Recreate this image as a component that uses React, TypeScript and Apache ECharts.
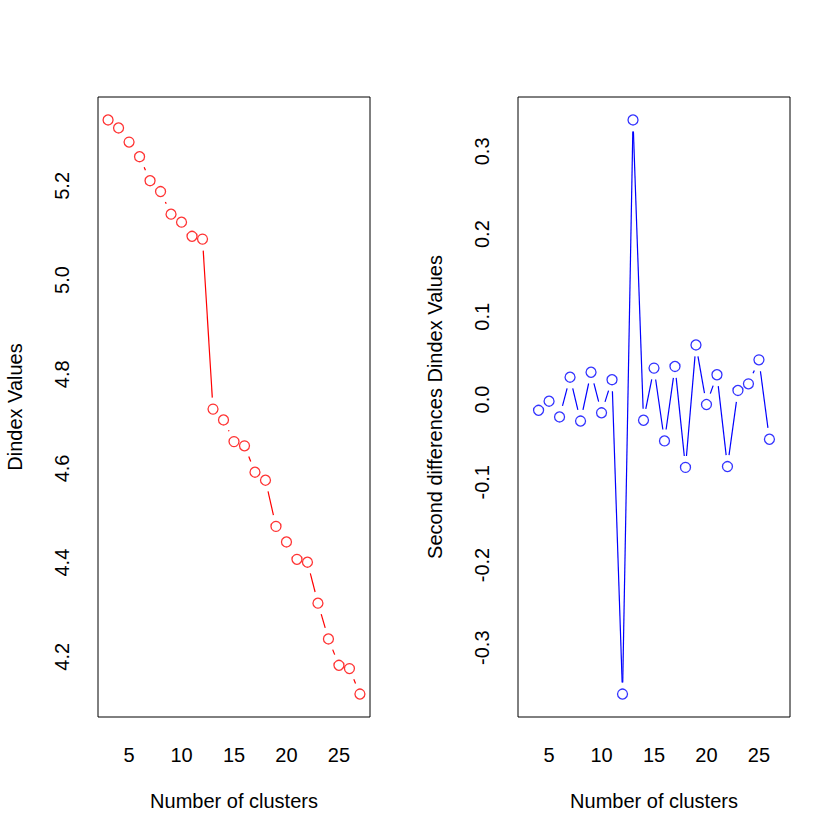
import React, { useEffect, useRef } from "react";
import * as echarts from "echarts";

// ---- Data ----
const clustersLeft = [3, 4, 5, 6, 7, 8, 9, 10, 11, 12, 13, 14, 15, 16, 17, 18, 19, 20, 21, 22, 23, 24, 25, 26, 27];
const dindexValues = [
  5.340, 5.323, 5.293, 5.262, 5.211, 5.188, 5.140, 5.123, 5.093, 5.087,
  4.726, 4.703, 4.657, 4.648, 4.592, 4.575, 4.477, 4.444, 4.407, 4.401,
  4.314, 4.238, 4.182, 4.175, 4.121,
];
const clustersRight = [4, 5, 6, 7, 8, 9, 10, 11, 12, 13, 14, 15, 16, 17, 18, 19, 20, 21, 22, 23, 24, 25, 26];
const secondDiffValues = [
  -0.013, -0.002, -0.021, 0.027, -0.026, 0.033, -0.016, 0.024, -0.356, 0.338,
  -0.025, 0.038, -0.050, 0.040, -0.082, 0.066, -0.006, 0.030, -0.081, 0.011,
  0.019, 0.048, -0.048,
];
const xTickValues = [5, 10, 15, 20, 25];
const yTicksLeft = [4.2, 4.4, 4.6, 4.8, 5.0, 5.2];
const yTicksRight = [-0.3, -0.2, -0.1, 0.0, 0.1, 0.2, 0.3];

// R-style axis extension (4% each side)
function extRange(vals: number[]): [number, number] {
  const lo = Math.min(...vals);
  const hi = Math.max(...vals);
  const d = (hi - lo) * 0.04;
  return [lo - d, hi + d];
}

const FONT = "'Liberation Sans', Arial, Helvetica, sans-serif";
const FS = 20;
const GAP = 11.5;

function segSeries(xs: number[], ys: number[], color: string, idx: number) {
  return {
    type: "custom",
    xAxisIndex: idx,
    yAxisIndex: idx,
    silent: true,
    encode: { x: 0, y: 1 },
    data: xs.map((x, i) => [x, ys[i]]),
    renderItem: (params: any, api: any) => {
      const i = params.dataIndex;
      if (i >= xs.length - 1) return { type: "group", children: [] };
      const p0 = api.coord([xs[i], ys[i]]);
      const p1 = api.coord([xs[i + 1], ys[i + 1]]);
      const dx = p1[0] - p0[0];
      const dy = p1[1] - p0[1];
      const len = Math.hypot(dx, dy);
      if (len <= 2 * GAP) return { type: "group", children: [] };
      const ux = dx / len;
      const uy = dy / len;
      return {
        type: "line",
        shape: {
          x1: p0[0] + ux * GAP,
          y1: p0[1] + uy * GAP,
          x2: p1[0] - ux * GAP,
          y2: p1[1] - uy * GAP,
        },
        style: { stroke: color, lineWidth: 1.2 },
      };
    },
  };
}

function pointSeries(xs: number[], ys: number[], color: string, idx: number) {
  return {
    type: "scatter",
    xAxisIndex: idx,
    yAxisIndex: idx,
    symbol: "circle",
    symbolSize: 10,
    silent: true,
    itemStyle: { color: "rgba(255,255,255,0)", borderColor: color, borderWidth: 1.3 },
    data: xs.map((x, i) => [x, ys[i]]),
  };
}

export default function App() {
  const ref = useRef<HTMLDivElement>(null);
  useEffect(() => {
    if (!ref.current) return;
    const chart = echarts.init(ref.current, null, { renderer: "svg" });
    const [xMin, xMax] = extRange(clustersLeft);
    const [yMinL, yMaxL] = extRange(dindexValues);
    const [yMinR, yMaxR] = extRange(secondDiffValues);

    const xAxisCfg = (gi: number) => ({
      type: "value",
      gridIndex: gi,
      min: xMin,
      max: xMax,
      name: "Number of clusters",
      nameLocation: "middle",
      nameGap: 73.5,
      nameTextStyle: { fontFamily: FONT, fontSize: FS, color: "#000" },
      axisLine: { show: false },
      axisTick: { show: false },
      splitLine: { show: false },
      axisLabel: {
        customValues: xTickValues,
        fontFamily: FONT,
        fontSize: FS,
        color: "#000",
        margin: 27.5,
        formatter: (v: number) => String(v),
      },
    });
    const yAxisCfg = (gi: number, mn: number, mx: number, ticks: number[], name: string) => ({
      type: "value",
      gridIndex: gi,
      min: mn,
      max: mx,
      name,
      nameLocation: "middle",
      nameGap: 73.5,
      nameRotate: 90,
      nameTextStyle: { fontFamily: FONT, fontSize: FS, color: "#000" },
      axisLine: { show: false },
      axisTick: { show: false },
      splitLine: { show: false },
      axisLabel: {
        customValues: ticks,
        rotate: 90,
        fontFamily: FONT,
        fontSize: FS,
        color: "#000",
        margin: 26.5,
        formatter: (v: number) => v.toFixed(1),
      },
    });

    chart.setOption({
      animation: false,
      backgroundColor: "#fff",
      grid: [
        { left: 98, top: 97, width: 272, height: 620, show: true, borderColor: "#000", borderWidth: 1, backgroundColor: "transparent" },
        { left: 518, top: 97, width: 272, height: 620, show: true, borderColor: "#000", borderWidth: 1, backgroundColor: "transparent" },
      ],
      xAxis: [xAxisCfg(0), xAxisCfg(1)],
      yAxis: [
        yAxisCfg(0, yMinL, yMaxL, yTicksLeft, "Dindex Values"),
        yAxisCfg(1, yMinR, yMaxR, yTicksRight, "Second differences Dindex Values"),
      ],
      series: [
        segSeries(clustersLeft, dindexValues, "#FF0000", 0),
        pointSeries(clustersLeft, dindexValues, "#FF0000", 0),
        segSeries(clustersRight, secondDiffValues, "#0000FF", 1),
        pointSeries(clustersRight, secondDiffValues, "#0000FF", 1),
      ],
    });
    return () => chart.dispose();
  }, []);
  return (
    <div
      ref={ref}
      style={{ position: "absolute", left: 0, top: 0, width: 840, height: 840 }}
    />
  );
}
